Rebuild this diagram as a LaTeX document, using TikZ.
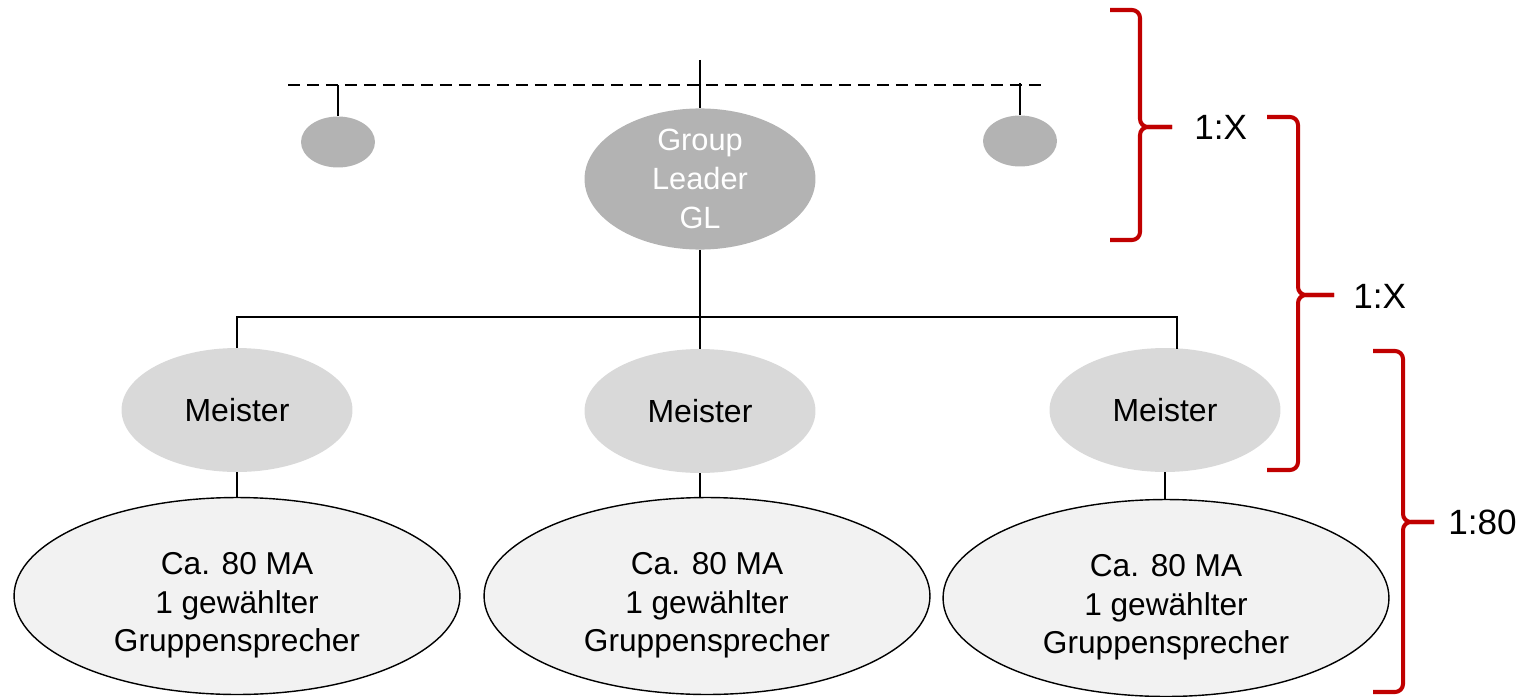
\documentclass[tikz,border=0pt]{standalone}
\usepackage{fontspec}
\setmainfont{Liberation Sans}
\usetikzlibrary{shapes.geometric}
\definecolor{bred}{HTML}{C00000}
\definecolor{glgray}{HTML}{B3B3B3}
\definecolor{mgray}{HTML}{D9D9D9}
\definecolor{lgray}{HTML}{F2F2F2}
\newcommand\lowtext[1]{\raisebox{-0.34cm}[0pt][0pt]{\begin{tabular}{@{}c@{}}#1\end{tabular}}}
\begin{document}
\begin{tikzpicture}[x=0.02cm,y=-0.02cm,
  conn/.style={line width=1.1pt,black},
  dashconn/.style={line width=1.1pt,black,dash pattern=on 0.24cm off 0.14cm},
  smallell/.style={ellipse,fill=glgray,minimum width=1.48cm,minimum height=1.02cm,inner sep=0pt},
  lead/.style={ellipse,fill=glgray,minimum width=4.62cm,minimum height=2.44cm,inner sep=0pt,text=white,align=center,font=\fontsize{17.5}{22.2}\selectfont},
  meister/.style={ellipse,fill=mgray,minimum width=4.62cm,minimum height=2.48cm,inner sep=0pt,align=center,font=\fontsize{18.2}{22}\selectfont},
  team/.style={ellipse,draw=black,line width=0.8pt,fill=lgray,minimum width=8.92cm,minimum height=3.94cm,inner sep=0pt,font=\fontsize{18}{21.9}\selectfont},
  bracestyle/.style={draw=bred,line width=2.3pt,rounded corners=0.16cm},
  ratio/.style={anchor=west,inner sep=0pt,font=\fontsize{20}{24}\selectfont}
]
\useasboundingbox (0,0) rectangle (1530,696);

% top level
\coordinate (dashL) at (288,85);
\coordinate (dashR) at (1045,85);
\coordinate (gltop) at (700,60);
\draw[dashconn] (dashL) -- (dashR);

\node[smallell] (s1) at (338,142) {};
\node[smallell] (s2) at (1020,141) {};
\node[lead] (gl) at (700,179) {Group\\Leader\\GL};

\draw[conn] (s1.north) -- (s1.north |- dashL);
\draw[conn] (s2.north) -- ++(0,-32);
\draw[conn] (gltop) -- (gl.north);

% Meister level
\node[meister] (m1) at (237,410) {Meister};
\node[meister] (m2) at (700,411) {Meister};
\node[meister] (m3) at (1165,410) {Meister};

\coordinate (barL) at (237,317);
\coordinate (barM) at (700,317);
\coordinate (barR) at (1177,317);
\coordinate (m3top) at (1177,349);
\draw[conn] (gl.south) -- (barM);
\draw[conn] (m1.north) -- (barL) -- (barR) -- (m3top);
\draw[conn] (barM) -- (m2.north);

% team level
\node[team] (t1) at (237,596) {\lowtext{Ca. 80 MA\\1 gewählter\\Gruppensprecher}};
\node[team] (t2) at (707,596) {\lowtext{Ca. 80 MA\\1 gewählter\\Gruppensprecher}};
\node[team] (t3) at (1166,598) {\lowtext{Ca. 80 MA\\1 gewählter\\Gruppensprecher}};

\draw[conn] (m1.south) -- (t1.north);
\draw[conn] (m2.south) -- (m2.south |- t2.north);
\draw[conn] (m3.south) -- (m3.south |- t3.north);

% braces
\draw[bracestyle] (1110,10) -| (1140,127) -- (1172,127);
\draw[bracestyle] (1110,240) -| (1140,127) -- (1172,127);
\node[ratio] (r1) at (1194,127) {1:X};

\draw[bracestyle] (1267,117) -| (1298,295) -- (1334,295);
\draw[bracestyle] (1267,470) -| (1298,295) -- (1334,295);
\node[ratio] (r2) at (1353,296) {1:X};

\draw[bracestyle] (1373,351) -| (1403,522) -- (1434,522);
\draw[bracestyle] (1373,692) -| (1403,522) -- (1434,522);
\node[ratio] (r3) at (1448,522) {1:80};
\end{tikzpicture}
\end{document}
